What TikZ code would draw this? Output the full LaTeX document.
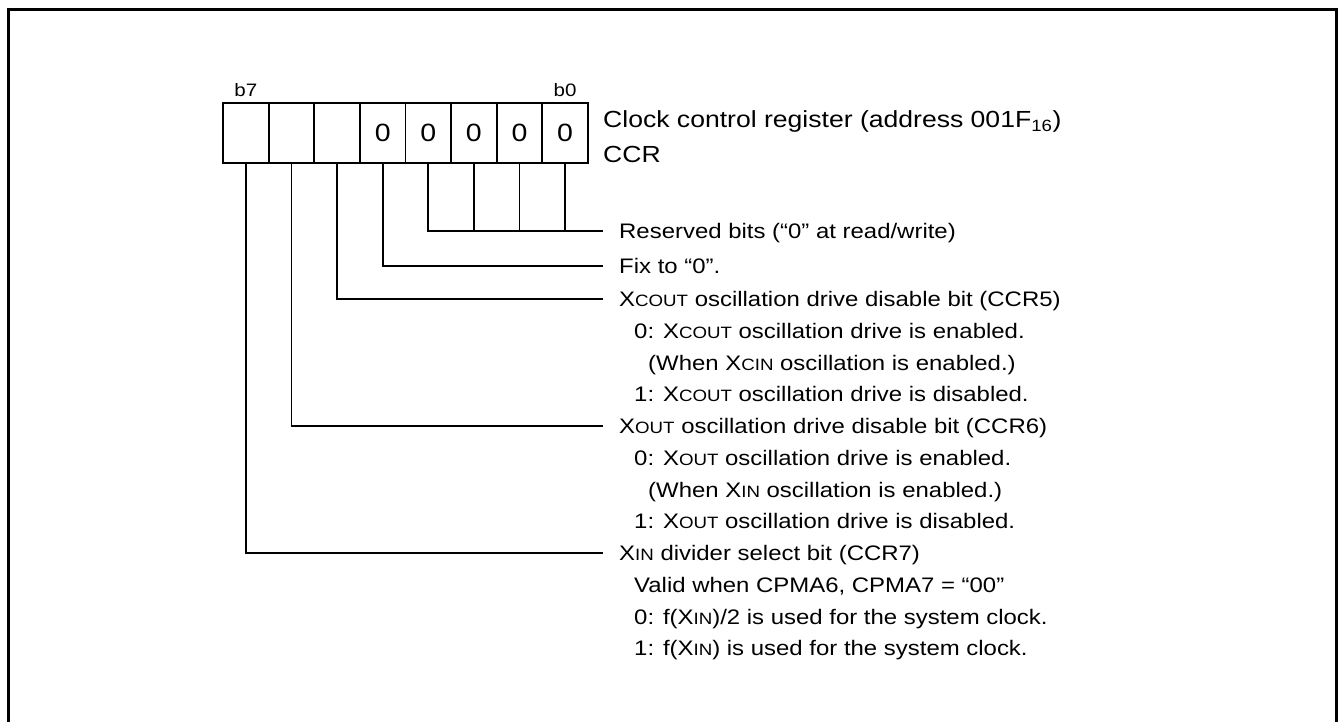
\documentclass[tikz,border=0pt]{standalone}
\usepackage{fontspec}
\setmainfont{Liberation Sans}[FakeStretch=1.14]
\usetikzlibrary{positioning}
\newcommand\smc[1]{{\fontsize{16.4}{16.4}\selectfont #1}}

\begin{document}
\begin{tikzpicture}[x=1pt, y=-1pt,
    bitcell/.style={rectangle, draw, line width=1.8pt,
                    minimum width=45.6pt, minimum height=59.5pt,
                    inner sep=0pt, font=\fontsize{25}{25}\selectfont},
    bitlbl/.style={anchor=base, inner sep=0pt, font=\fontsize{18}{18}\selectfont},
    desc/.style={anchor=base west, inner sep=0pt, font=\fontsize{21}{21}\selectfont},
    regname/.style={desc, font=\fontsize{23.3}{23.3}\selectfont},
    wire/.style={line width=1.8pt}
  ]
  \useasboundingbox (0,0) rectangle (1339,722);
  \draw[line width=3pt] (8,722) |- (1336,10) -- (1336,722);

  % register cells, b7 on the left
  \foreach \i/\v in {7/,6/,5/,4/0,3/0,2/0,1/0,0/0}
    \node[bitcell] (b\i) at ({245.9+45.6*(7-\i)}, 133) {\v};
  \node[bitlbl] (lb7) at ([yshift=6pt]b7.north) {b7};
  \node[bitlbl] (lb0) at ([yshift=6pt]b0.north) {b0};

  \node[regname] (title) at (603,128)
    {Clock control register (address 001F\textsubscript{16})};
  \node[regname] (ccr) at (603,163) {CCR};

  % reserved bits
  \coordinate (resend) at (603,231);
  \draw[wire] (b3.south) |- (resend);
  \foreach \i in {0,1,2}
    \draw[wire] (b\i.south) -- (b\i.south |- resend);
  \node[desc] (res) at ([xshift=16pt,yshift=-7.5pt]resend)
    {Reserved bits (“0” at read/write)};

  % b4
  \coordinate (fixend) at (603,266);
  \draw[wire] (b4.south) |- (fixend);
  \node[desc] (fix) at ([xshift=16pt,yshift=-7.5pt]fixend) {Fix to “0”.};

  % CCR5
  \coordinate (ccr5end) at (603,299);
  \draw[wire] (b5.south) |- (ccr5end);
  \node[desc] (ccr5) at ([xshift=16pt,yshift=-7.5pt]ccr5end)
    {X\smc{COUT} oscillation drive disable bit (CCR5)};
  \node[desc] (ccr5a) at ([xshift=15pt,yshift=-31.75pt]ccr5.base west)
    {0: X\smc{COUT} oscillation drive is enabled.};
  \node[desc] (ccr5b) at ([xshift=14pt,yshift=-31.75pt]ccr5a.base west)
    {(When X\smc{CIN} oscillation is enabled.)};
  \node[desc] (ccr5c) at ([xshift=-14pt,yshift=-31.75pt]ccr5b.base west)
    {1: X\smc{COUT} oscillation drive is disabled.};

  % CCR6
  \coordinate (ccr6end) at (603,426);
  \draw[wire] (b6.south) |- (ccr6end);
  \node[desc] (ccr6) at ([xshift=16pt,yshift=-7.5pt]ccr6end)
    {X\smc{OUT} oscillation drive disable bit (CCR6)};
  \node[desc] (ccr6a) at ([xshift=15pt,yshift=-31.75pt]ccr6.base west)
    {0: X\smc{OUT} oscillation drive is enabled.};
  \node[desc] (ccr6b) at ([xshift=14pt,yshift=-31.75pt]ccr6a.base west)
    {(When X\smc{IN} oscillation is enabled.)};
  \node[desc] (ccr6c) at ([xshift=-14pt,yshift=-31.75pt]ccr6b.base west)
    {1: X\smc{OUT} oscillation drive is disabled.};

  % CCR7
  \coordinate (ccr7end) at (603,553);
  \draw[wire] (b7.south) |- (ccr7end);
  \node[desc] (ccr7) at ([xshift=16pt,yshift=-7.5pt]ccr7end)
    {X\smc{IN} divider select bit (CCR7)};
  \node[desc] (ccr7a) at ([xshift=15pt,yshift=-31.75pt]ccr7.base west)
    {Valid when CPMA6, CPMA7 = “00”};
  \node[desc] (ccr7b) at ([yshift=-31.75pt]ccr7a.base west)
    {0: f(X\smc{IN})/2 is used for the system clock.};
  \node[desc] (ccr7c) at ([yshift=-31.75pt]ccr7b.base west)
    {1: f(X\smc{IN}) is used for the system clock.};
\end{tikzpicture}
\end{document}
